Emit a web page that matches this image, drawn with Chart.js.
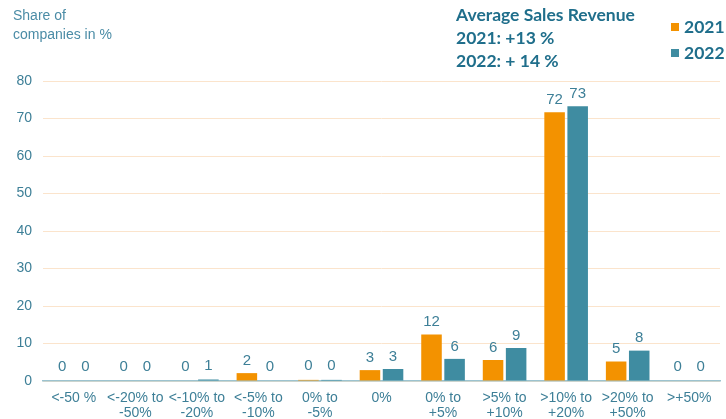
<!DOCTYPE html>
<html>
<head>
<meta charset="utf-8">
<script src="https://cdn.jsdelivr.net/npm/chart.js@4"></script>
<style>
  html, body { margin: 0; padding: 0; background: #fff; overflow: hidden; }
  #wrap { position: relative; width: 726px; height: 419px; }
  .ytitle { position: absolute; left: 13px; top: 6px; font: 14px "Liberation Sans", Arial, sans-serif; color: #4b8ca6; line-height: 19px; }
  .note { position: absolute; left: 456px; top: 3px; font: bold 17.5px Lato, sans-serif; color: #1f6e8b; line-height: 23px; }
  .legend { position: absolute; left: 671px; top: 14px; font: bold 17.5px Lato, sans-serif; color: #1f6e8b; line-height: 26px; white-space: nowrap; }
  .legend span { display: inline-block; width: 8px; height: 8px; margin-right: 5px; vertical-align: 2px; }
</style>
</head>
<body>
<div id="wrap">
  <canvas id="chart" width="726" height="419"></canvas>
  <div class="ytitle">Share of<br>companies in %</div>
  <div class="note">Average Sales Revenue<br>2021: +13 %<br>2022: + 14 %</div>
  <div class="legend"><div><span style="background:#f39200"></span>2021</div><div><span style="background:#3f8ca1"></span>2022</div></div>
</div>
<script>
// categories and values
const categories = [
  ['<-50 %'], ['<-20% to', '-50%'], ['<-10% to', '-20%'], ['<-5% to', '-10%'],
  ['0% to', '-5%'], ['0%'], ['0% to', '+5%'], ['>5% to', '+10%'],
  ['>10% to', '+20%'], ['>20% to', '+50%'], ['>+50%']
];
const values2021 = [0, 0, 0, 2.1, 0.3, 2.9, 12.4, 5.6, 71.7, 5.2, 0];
const values2022 = [0, 0, 0.4, 0, 0.3, 3.2, 5.9, 8.8, 73.3, 8.1, 0];
const labels2021 = ['0', '0', '0', '2', '0', '3', '12', '6', '72', '5', '0'];
const labels2022 = ['0', '0', '1', '0', '0', '3', '6', '9', '73', '8', '0'];
const yTicks = [0, 10, 20, 30, 40, 50, 60, 70, 80];

const textColor = '#3d7f97';
const fontFamily = '"Liberation Sans", Arial, sans-serif';

const valueLabels = {
  id: 'valueLabels',
  afterDatasetsDraw(chart) {
    const ctx = chart.ctx;
    const texts = [labels2021, labels2022];
    ctx.save();
    ctx.font = '15px ' + fontFamily;
    ctx.fillStyle = textColor;
    ctx.textAlign = 'center';
    ctx.textBaseline = 'bottom';
    chart.data.datasets.forEach((ds, i) => {
      chart.getDatasetMeta(i).data.forEach((bar, j) => {
        ctx.fillText(texts[i][j], bar.x, Math.min(bar.y, bar.base - 2) - 5);
      });
    });
    ctx.restore();
  }
};

new Chart(document.getElementById('chart'), {
  type: 'bar',
  data: {
    labels: categories,
    datasets: [
      { label: '2021', data: values2021, backgroundColor: '#f39200' },
      { label: '2022', data: values2022, backgroundColor: '#3f8ca1' }
    ]
  },
  options: {
    responsive: false,
    animation: false,
    layout: { padding: { top: 81, right: 6, left: 0, bottom: 0 } },
    datasets: { bar: { categoryPercentage: 0.75, barPercentage: 0.89 } },
    plugins: { legend: { display: false }, tooltip: { enabled: false } },
    scales: {
      x: {
        grid: { display: false, drawTicks: false },
        border: { color: '#9cc3cf', width: 1.5 },
        ticks: { color: textColor, font: { size: 14, family: fontFamily, lineHeight: 1.1 }, padding: 9, maxRotation: 0, autoSkip: false },
        afterFit(scale) { scale.height = 38; }
      },
      y: {
        min: 0, max: 80,
        afterBuildTicks(scale) { scale.ticks = yTicks.map(v => ({ value: v })); },
        grid: { color: '#fbe4cc', drawTicks: false },
        border: { display: false },
        ticks: { color: textColor, font: { size: 14, family: fontFamily }, padding: 11 },
        afterFit(scale) { scale.width = 43; }
      }
    }
  },
  plugins: [valueLabels]
});
</script>
</body>
</html>
